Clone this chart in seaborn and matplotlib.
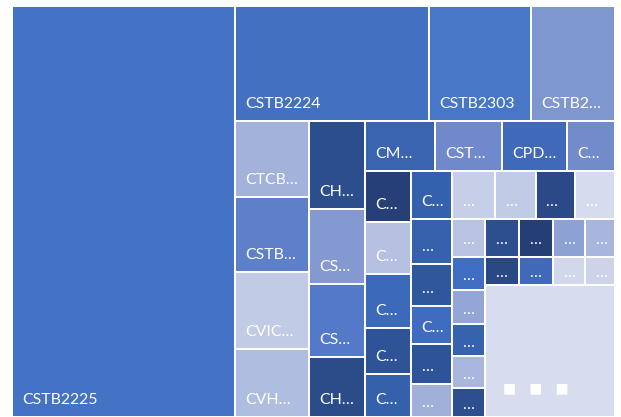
import matplotlib
matplotlib.use("Agg")
import matplotlib.pyplot as plt
from matplotlib.patches import Rectangle
import seaborn as sns

# treemap blocks, in drawing order (labels as Excel shows them, truncated)
labels = [
    "CSTB2225",
    "CSTB2224", "CSTB2303", "CSTB2…",
    "CTCB…", "CSTB…", "CVIC…", "CVH…",
    "CH…", "CS…", "CS…", "CH…",
    "CM…", "CST…", "CPD…", "C…",
    "C…", "C…", "C…", "C…", "C…",
    "C…", "…", "…", "C…", "…", "…",
    "…", "…", "…", "…",
    "…", "…", "…", "…", "…", "…",
    "…", "…", "…", "…",
    "…", "…", "…", "…",
    "■   ■   ■",
]
values = [
    9178,
    2231, 1170, 960,
    562, 559, 566, 503,
    489, 421, 403, 337,
    348, 336, 321, 236,
    240, 242, 251, 212, 200,
    196, 186, 170, 155, 161, 136,
    206, 195, 192, 188,
    126, 111, 112, 105, 105, 96,
    129, 129, 121, 112,
    96, 96, 89, 83,
    1709,
]
colors = [
    "#4472C4",
    "#4470C2", "#4777C6", "#7F97CF",
    "#A2B2DB", "#5D80C8", "#C1CBE6", "#AFBDE0",
    "#2D4E8C", "#8599D1", "#5479C8", "#2C4C89",
    "#3A64AF", "#6F89CC", "#4169B9", "#728CCB",
    "#263F77", "#B6C1E1", "#3C69BA", "#2E5397", "#3560AC",
    "#3461AD", "#3561AD", "#30569C", "#3F6CC0", "#2E5399", "#A1B0D9",
    "#C7CFE8", "#C0CBE5", "#2A4986", "#D6DCEE",
    "#B8C3E2", "#3F6DC1", "#93A6D6", "#3762AE", "#A9B7DE", "#2D4F8F",
    "#2D4F90", "#253F74", "#8DA1D4", "#A8B5DC",
    "#2A4883", "#4169B9", "#D2D8EC", "#CDD4EA",
    "#D7DCEE",
]

# strips of the layout: how many blocks each holds and which way it runs
strip_counts = [1, 3, 4, 4, 4, 5, 6, 4, 6, 4, 4, 1]
strip_dirs = ["col", "row", "col", "col", "row", "col", "col", "row", "col", "row", "row", "col"]


def strip_layout(vals, counts, dirs, x, y, w, h):
    rects = []
    rest = float(sum(vals))
    i = 0
    for n, d in zip(counts, dirs):
        chunk = vals[i:i + n]
        s = float(sum(chunk))
        if d == "col":
            cw = w * s / rest
            yy = y
            for v in chunk:
                ch = h * v / s
                rects.append((x, yy, cw, ch))
                yy += ch
            x += cw
            w -= cw
        else:
            rh = h * s / rest
            xx = x
            for v in chunk:
                rw = w * v / s
                rects.append((xx, y, rw, rh))
                xx += rw
            y += rh
            h -= rh
        rest -= s
        i += n
    return rects


sns.set_theme(style="white")
plt.rcParams["font.family"] = ["Lato", "DejaVu Sans"]

W, H = 602.5, 411.0
fig = plt.figure(figsize=(6.21, 4.17), dpi=100)
ax = fig.add_axes([12 / 621, 0, W / 621, H / 417])
ax.set_xlim(0, W)
ax.set_ylim(H, 0)
ax.axis("off")

pal = sns.color_palette(colors)
rects = strip_layout(values, strip_counts, strip_dirs, 0, 0, W, H)

for (x, y, w, h), lab, col in zip(rects, labels, pal):
    ax.add_patch(Rectangle((x, y), w, h, facecolor=col, edgecolor="white", linewidth=1.4))
    if lab.startswith("■"):
        ax.text(x + 18, y + h - 25, lab, color="white", fontsize=10,
                family=["DejaVu Sans"], va="baseline", ha="left")
        continue
    pad_b = min(13, max(7, (h - 13) / 2))
    ax.text(x + 10, y + h - pad_b, lab, color="white", fontsize=11.4,
            va="baseline", ha="left")

fig.savefig("out.png", dpi=100)
